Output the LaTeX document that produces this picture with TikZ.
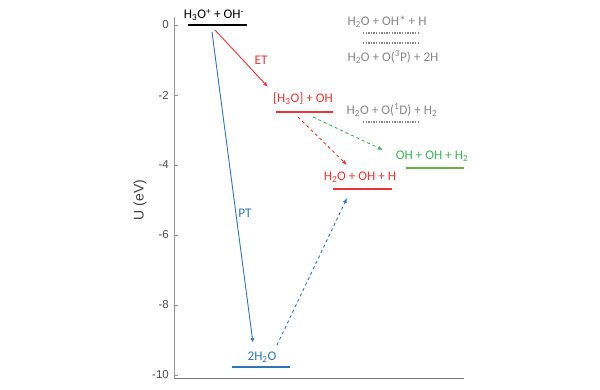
\documentclass[tikz,border=0pt]{standalone}
\usepackage{fontspec}
\setmainfont{Carlito}
\newfontfamily\axisfont{Liberation Sans}
\usetikzlibrary{arrows.meta}
\definecolor{etred}{RGB}{238,52,52}
\definecolor{ptblue}{RGB}{46,117,182}
\definecolor{ohgreen}{RGB}{62,178,86}
\definecolor{lvlgreen}{RGB}{112,173,71}
\definecolor{txtgray}{RGB}{135,135,135}
\definecolor{axgray}{RGB}{150,150,150}

\begin{document}
\begin{tikzpicture}[x=1pt, y=35pt,
  every node/.style={font=\fontsize{13.2}{15}\selectfont, inner sep=0pt},
  level/.style={line width=2.6pt},
  jump/.style={line width=0.9pt, -{Latex[length=5pt,width=4pt]}},
  dots/.style={txtgray, line width=2pt, dash pattern=on 1.4pt off 1.2pt}]
 \useasboundingbox (0,0.7143) rectangle (600,-10.4286);
 % assi
 \draw[axgray, line width=0.8pt] (174,0.23) -- (174,-10.09);
 \draw[axgray!80!black, line width=1.1pt] (174,-10.09) -- (464,-10.09);
 \foreach \u in {0,-2,-4,-6,-8,-10}{
   \draw[axgray, line width=0.6pt] (174,\u) -- (178,\u);
   \node[anchor=east, font=\axisfont\fontsize{11.5}{13}\selectfont, text=black!70] (tick\u) at (169,\u) {\u};
 }
 \node[rotate=90, font=\axisfont\fontsize{14}{16}\selectfont, text=black!75] (ulabel) at (140,-5.0) {U (eV)};
 % livelli
 \draw[level, black] (188,0) -- (247,0);
 \node (react) at (214,0.286) {H\textsubscript{3}O\textsuperscript{+} + OH\textsuperscript{-}};
 \draw[level, etred] (276,-2.486) -- (333,-2.486);
 \node[text=etred] (inter) at (303,-2.114) {[H\textsubscript{3}O] + OH};
 \draw[level, etred] (333,-4.686) -- (392,-4.686);
 \node[text=etred] (prodet) at (360,-4.343) {H\textsubscript{2}O + OH + H};
 \draw[level, lvlgreen] (406,-4.086) -- (464,-4.086);
 \node[text=ohgreen] (prodoh) at (432,-3.743) {OH + OH + H\textsubscript{2}};
 \draw[level, ptblue] (232,-9.771) -- (290,-9.771);
 \node[text=ptblue] (prodpt) at (262,-9.486) {2H\textsubscript{2}O};
 % canali grigi
 \node[text=txtgray] (chA) at (387,0.086) {H\textsubscript{2}O + OH* + H};
 \draw[dots] (363,-0.229) -- (419,-0.229);
 \draw[dots] (363,-0.514) -- (419,-0.514);
 \node[text=txtgray] (chB) at (393,-0.914) {H\textsubscript{2}O + O(\textsuperscript{3}P) + 2H};
 \node[text=txtgray] (chC) at (392,-2.43) {H\textsubscript{2}O + O(\textsuperscript{1}D) + H\textsubscript{2}};
 \draw[dots] (363,-2.77) -- (419,-2.77);
 % frecce
 \coordinate (etS) at (215,-0.143);  \coordinate (etE) at (268,-1.771);
 \coordinate (ptS) at (212,-0.2);    \coordinate (ptE) at (253,-9.086);
 \coordinate (rdS) at (298,-2.629);  \coordinate (rdE) at (347,-4.0);
 \coordinate (gdS) at (313,-2.629);  \coordinate (gdE) at (383,-3.571);
 \coordinate (bdS) at (277,-9.143);  \coordinate (bdE) at (347,-4.943);
 \draw[jump, etred] (etS) -- (etE);
 \node[text=etred] (et) at (261,-1.0) {ET};
 \draw[jump, ptblue] (ptS) -- (ptE);
 \node[text=ptblue] (pt) at (245,-5.371) {PT};
 \draw[jump, etred, dashed] (rdS) -- (rdE);
 \draw[jump, ohgreen, dashed] (gdS) -- (gdE);
 \draw[jump, ptblue, dashed] (bdS) -- (bdE);
\end{tikzpicture}
\end{document}
